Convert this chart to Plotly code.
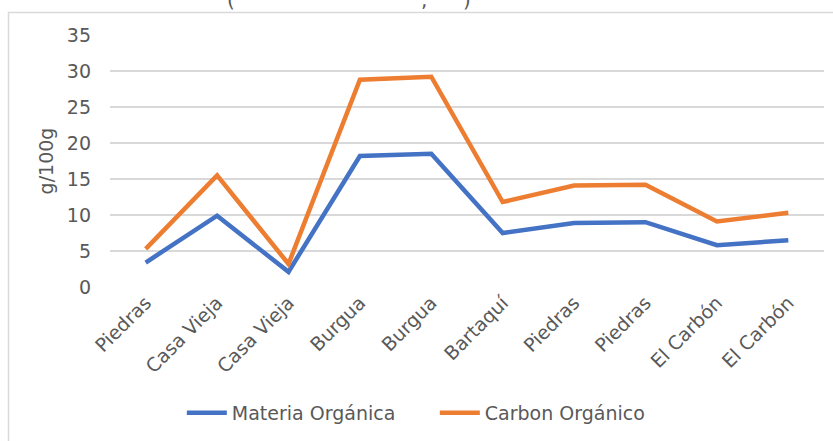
import plotly.graph_objects as go

categories = ["Piedras", "Casa Vieja", "Casa Vieja", "Burgua", "Burgua", "Bartaquí",
              "Piedras", "Piedras", "El Carbón", "El Carbón"]
materia_organica = [3.4, 9.9, 2.1, 18.2, 18.5, 7.5, 8.9, 9.0, 5.8, 6.5]
carbon_organico = [5.3, 15.5, 3.2, 28.8, 29.2, 11.8, 14.1, 14.2, 9.1, 10.3]
y_ticks = [0, 5, 10, 15, 20, 25, 30, 35]

W, H = 833, 441
L, R, T, B = 110, 9, 35, 154
pw, ph = W - L - R, H - T - B

def px_x(p):
    return (p - L) / pw

def px_y(p):
    return (H - B - p) / ph

FONT = "DejaVu Sans"
GREY = "#595959"

x_idx = list(range(len(categories)))

fig = go.Figure()
fig.add_trace(go.Scatter(x=x_idx, y=materia_organica, mode="lines", name="Materia Orgánica",
                         line=dict(color="#4472C4", width=4.5)))
fig.add_trace(go.Scatter(x=x_idx, y=carbon_organico, mode="lines", name="Carbon Orgánico",
                         line=dict(color="#ED7D31", width=4.5)))

fig.update_layout(
    width=W, height=H,
    margin=dict(l=L, r=R, t=T, b=B),
    paper_bgcolor="white", plot_bgcolor="white",
    font=dict(family=FONT, size=19, color=GREY),
    xaxis=dict(tickmode="array", tickvals=x_idx, ticktext=categories, tickangle=-45,
               range=[-0.5, len(categories) - 0.5], showgrid=False, zeroline=False,
               showline=False, ticks="", tickfont=dict(size=19, color=GREY)),
    yaxis=dict(range=[0, 35], tickvals=y_ticks, showgrid=True, gridcolor="#d9d9d9",
               gridwidth=1.5, zeroline=False, showline=False, ticks="",
               ticklabelstandoff=18,
               title=dict(text="g/100g", font=dict(size=19, color=GREY), standoff=8),
               tickfont=dict(size=19, color=GREY)),
    legend=dict(orientation="h", xref="container", yref="container", x=0.522, xanchor="center",
                y=(H - 413) / H, yanchor="middle", font=dict(size=19, color=GREY),
                itemwidth=40, entrywidth=198, entrywidthmode="pixels",
                bgcolor="rgba(0,0,0,0)"),
    shapes=[dict(type="rect", xref="paper", yref="paper",
                 x0=px_x(8.5), x1=px_x(W + 10), y0=px_y(H + 10), y1=px_y(12.5),
                 line=dict(color="#d9d9d9", width=1.5), fillcolor="rgba(0,0,0,0)",
                 layer="below")],
    annotations=[
        dict(text=t, x=px_x(xp), y=px_y(14), xref="paper", yref="paper", showarrow=False,
             xanchor="center", yanchor="bottom", font=dict(size=20, color=GREY, family=FONT))
        for t, xp in [("(", 231), (",", 424), (")", 467)]
    ],
)

fig.write_html("out.html")
